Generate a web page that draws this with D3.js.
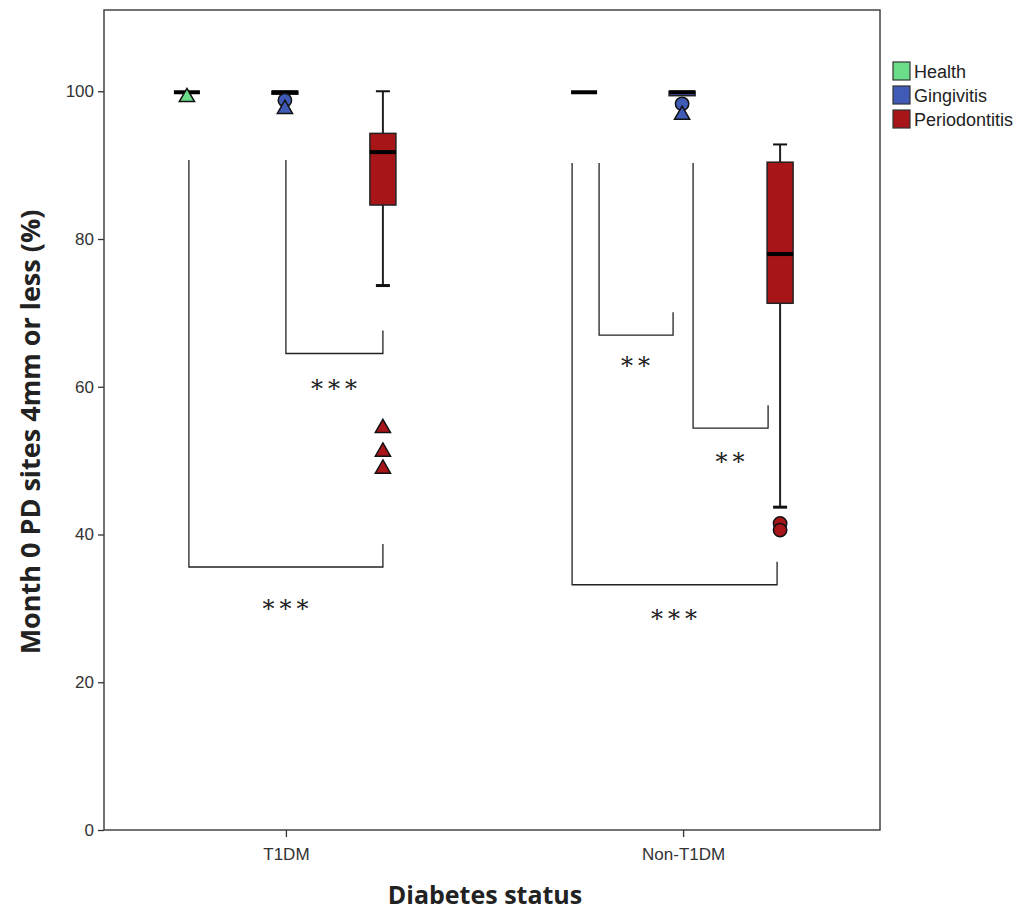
<!DOCTYPE html>
<html>
<head>
<meta charset="utf-8">
<script src="https://cdn.jsdelivr.net/npm/d3@7"></script>
<style>
  body { margin: 0; background: #fff; }
  svg { display: block; }
</style>
</head>
<body>
<div id="viz"></div>
<script>
// diabetes groups and periodontal status
var statuses = ["T1DM", "Non-T1DM"];
var types = ["Health", "Gingivitis", "Periodontitis"];
var colors = ["#6bdc87", "#3f5bb5", "#a81519"];
var yTicks = [0, 20, 40, 60, 80, 100];

// box stats: [whiskerLow, q1, median, q3, whiskerHigh]
var boxT1DM = [[100, 100, 100, 100, 100], [100, 99.6, 100, 100, 100], [73.7, 84.6, 91.9, 94.3, 100]];
var boxNon = [[100, 100, 100, 100, 100], [100, 99.4, 100, 100, 100], [43.7, 71.3, 78.1, 90.4, 92.8]];

// outliers: status, type, value, shape
var outStatus = ["T1DM", "T1DM", "T1DM", "T1DM", "T1DM", "T1DM", "Non-T1DM", "Non-T1DM", "Non-T1DM", "Non-T1DM"];
var outType = ["Health", "Gingivitis", "Gingivitis", "Periodontitis", "Periodontitis", "Periodontitis", "Gingivitis", "Gingivitis", "Periodontitis", "Periodontitis"];
var outValue = [99.2, 98.8, 97.6, 54.4, 51.2, 48.9, 98.3, 96.8, 41.5, 40.6];
var outShape = ["tri", "circ", "tri", "tri", "tri", "tri", "circ", "tri", "circ", "circ"];

// significance brackets: status, from type, to type, level, label
var sigStatus = ["T1DM", "T1DM", "Non-T1DM", "Non-T1DM", "Non-T1DM"];
var sigFrom = ["Health", "Gingivitis", "Health", "Gingivitis", "Health"];
var sigTo = ["Periodontitis", "Periodontitis", "Gingivitis", "Periodontitis", "Periodontitis"];
var sigFromShift = [2, 1, 15, 11, -12];
var sigToShift = [0, 0, -9, -12, -3];
var sigLevel = [35.6, 64.5, 67.0, 54.4, 33.2];
var sigTop = [90.7, 90.7, 90.3, 90.3, 90.3];
var sigLabel = ["***", "***", "**", "**", "***"];
var sigLabelAt = [30.4, 60.2, 63.3, 50.3, 29.1];

var W = 1030, H = 913;
var pL = 104, pT = 10, pR = 880, pB = 830;

var svg = d3.select("#viz").append("svg").attr("width", W).attr("height", H);

var y = d3.scaleLinear().domain([0, 111]).range([pB, pT]);
var x0 = d3.scalePoint().domain(statuses).range([pL, 865]).padding(0.458);
var x1 = d3.scalePoint().domain(types).range([-99, 97]);
var color = d3.scaleOrdinal().domain(types).range(colors);
function xp(s, t) { return x0(s) + x1(t); }

// frame
svg.append("rect").attr("x", pL).attr("y", pT).attr("width", pR - pL).attr("height", pB - pT)
  .attr("fill", "none").attr("stroke", "#444").attr("stroke-width", 1.5);

// y axis
var yAxis = svg.append("g").attr("transform", "translate(" + pL + ",0)")
  .call(d3.axisLeft(y).tickValues(yTicks).tickSize(6).tickSizeOuter(0));
yAxis.select(".domain").remove();
yAxis.selectAll("line").attr("stroke", "#333").attr("stroke-width", 1.3);
yAxis.selectAll("text").attr("font-family", "Liberation Sans, Arial").attr("font-size", 17).attr("fill", "#333").attr("dx", -1);

// x axis
var xAxis = svg.append("g").attr("transform", "translate(0," + pB + ")")
  .call(d3.axisBottom(x0).tickSize(7).tickSizeOuter(0));
xAxis.select(".domain").remove();
xAxis.selectAll("line").attr("stroke", "#333").attr("stroke-width", 1.3);
xAxis.selectAll("text").attr("font-family", "Liberation Sans, Arial").attr("font-size", 17).attr("fill", "#333").attr("dy", "1.2em");

// axis titles
svg.append("text").attr("x", 485).attr("y", 904).attr("text-anchor", "middle")
  .attr("font-family", "Open Sans, sans-serif").attr("font-weight", "bold").attr("font-size", 25).attr("fill", "#222")
  .text("Diabetes status");
svg.append("text").attr("transform", "translate(40,432) rotate(-90)").attr("text-anchor", "middle")
  .attr("font-family", "Open Sans, sans-serif").attr("font-weight", "bold").attr("font-size", 27).attr("fill", "#222")
  .text("Month 0 PD sites 4mm or less (%)");

// significance brackets
var bw = 26;
sigLabel.forEach(function(lab, i) {
  var xa = xp(sigStatus[i], sigFrom[i]) + sigFromShift[i];
  var xb = xp(sigStatus[i], sigTo[i]) + sigToShift[i];
  var yl = y(sigLevel[i]);
  var path = "M" + xa + "," + y(sigTop[i]) + "V" + yl + "H" + xb + "V" + y(sigLevel[i] + 3.1);
  svg.append("path").attr("d", path).attr("fill", "none").attr("stroke", "#222").attr("stroke-width", 1.3);
  svg.append("text").attr("x", (xa + xb) / 2 + 2).attr("y", y(sigLabelAt[i]) + 12)
    .attr("text-anchor", "middle").attr("font-family", "DejaVu Serif, serif").attr("font-size", 24)
    .attr("letter-spacing", 5).attr("fill", "#222").text(lab);
});

// boxes
var boxes = [];
statuses.forEach(function(s, si) {
  var src = si === 0 ? boxT1DM : boxNon;
  types.forEach(function(t, ti) { boxes.push({ s: s, t: t, v: src[ti] }); });
});

var g = svg.selectAll("g.box").data(boxes).enter().append("g").attr("class", "box");
g.each(function(d) {
  var sel = d3.select(this);
  var cx = xp(d.s, d.t);
  var v = d.v;
  if (v[0] < v[1]) {
    sel.append("line").attr("x1", cx).attr("x2", cx).attr("y1", y(v[0])).attr("y2", y(v[1])).attr("stroke", "#222").attr("stroke-width", 2);
    sel.append("line").attr("x1", cx - 7).attr("x2", cx + 7).attr("y1", y(v[0])).attr("y2", y(v[0])).attr("stroke", "#111").attr("stroke-width", 3);
  }
  if (v[4] > v[3]) {
    sel.append("line").attr("x1", cx).attr("x2", cx).attr("y1", y(v[4])).attr("y2", y(v[3])).attr("stroke", "#222").attr("stroke-width", 2);
    sel.append("line").attr("x1", cx - 7).attr("x2", cx + 7).attr("y1", y(v[4])).attr("y2", y(v[4])).attr("stroke", "#111").attr("stroke-width", 2);
  }
  if (v[3] > v[1]) {
    sel.append("rect").attr("x", cx - bw / 2).attr("y", y(v[3])).attr("width", bw).attr("height", y(v[1]) - y(v[3]))
      .attr("fill", color(d.t)).attr("stroke", "#222").attr("stroke-width", 1.5);
  }
  sel.append("line").attr("x1", cx - bw / 2).attr("x2", cx + bw / 2).attr("y1", y(v[2]) + 1).attr("y2", y(v[2]) + 1)
    .attr("stroke", "#000").attr("stroke-width", 4);
});

// outliers
var tri = d3.symbol().type(d3.symbolTriangle).size(100);
var circ = d3.symbol().type(d3.symbolCircle).size(140);
outValue.forEach(function(v, i) {
  var cx = xp(outStatus[i], outType[i]);
  svg.append("path").attr("d", outShape[i] === "tri" ? tri() : circ())
    .attr("transform", "translate(" + cx + "," + y(v) + ")")
    .attr("fill", color(outType[i])).attr("stroke", "#111").attr("stroke-width", 1.5);
});

// legend
var leg = svg.selectAll("g.leg").data(types).enter().append("g").attr("class", "leg")
  .attr("transform", function(d, i) { return "translate(893," + (62 + i * 24) + ")"; });
leg.append("rect").attr("width", 17).attr("height", 18).attr("fill", function(d) { return color(d); })
  .attr("stroke", "#333").attr("stroke-width", 1.2);
leg.append("text").attr("x", 21).attr("y", 16).attr("font-family", "Liberation Sans, Arial").attr("font-size", 18)
  .attr("fill", "#222").text(function(d) { return d; });
</script>
</body>
</html>
